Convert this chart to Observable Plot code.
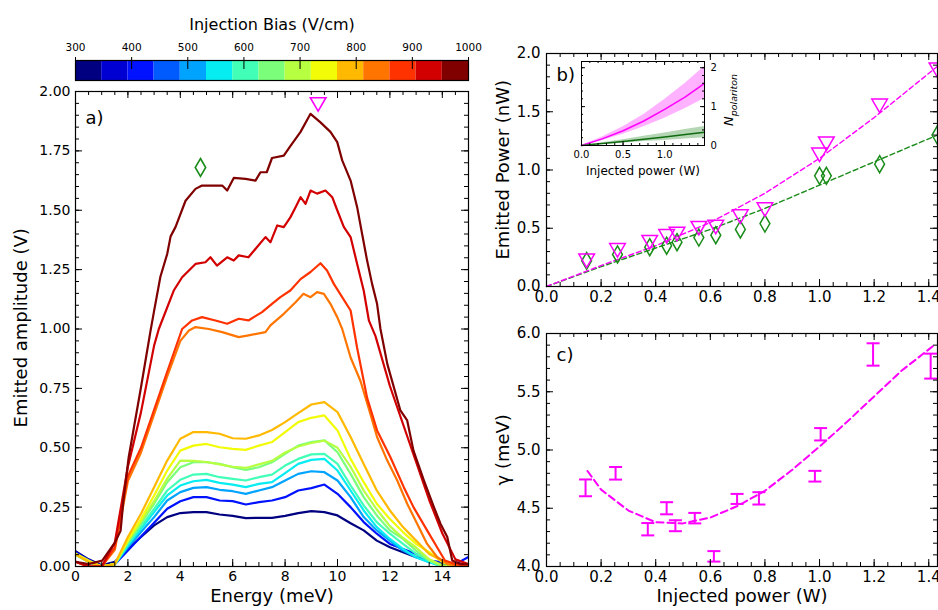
<!DOCTYPE html>
<html><head><meta charset="utf-8">
<script src="https://cdn.jsdelivr.net/npm/d3@7"></script>
<script src="https://cdn.jsdelivr.net/npm/@observablehq/plot@0.6"></script>
<style>
body{margin:0;background:#fff;font-family:"DejaVu Sans",sans-serif;}
#fig{position:relative;width:938px;height:610px;overflow:hidden;background:#fff;}
#fig > *{position:absolute;}
.rlab{font-family:"DejaVu Sans",sans-serif;white-space:nowrap;transform-origin:center center;line-height:1.2;color:#000;}
</style></head><body><div id="fig"></div>
<script>
// ---------------- DATA ----------------
// Panel a: spectra (Energy in meV, amplitude in V), one series per injection bias
const energy = [0,0.5,1,1.5,2,2.5,3,3.5,4,4.5,5,5.5,6,6.5,7,7.5,8,8.5,9,9.5,10,10.5,11,11.5,12,12.5,13,13.5,14,14.5,15];
const specNavy   = [0.065,0.03,0.005,0.02,0.074,0.124,0.173,0.208,0.225,0.229,0.229,0.219,0.213,0.204,0.205,0.205,0.213,0.225,0.233,0.229,0.215,0.182,0.152,0.109,0.081,0.060,0.039,0.025,0.010,0.005,0.003];
const specBlue   = [0.06,0.028,0.0,0.01,0.067,0.126,0.184,0.243,0.275,0.292,0.292,0.278,0.275,0.261,0.271,0.278,0.292,0.320,0.330,0.345,0.306,0.250,0.187,0.138,0.095,0.074,0.053,0.025,0.018,0.01,0.04];
const specAzure  = [0.05,0.02,0.0,0.01,0.081,0.145,0.208,0.278,0.313,0.331,0.334,0.323,0.317,0.306,0.320,0.334,0.362,0.390,0.401,0.397,0.362,0.292,0.208,0.152,0.109,0.067,0.039,0.018,0.005,0.0,0.0];
const specCyan   = [0.05,0.02,0.0,0.01,0.088,0.159,0.229,0.299,0.341,0.359,0.365,0.352,0.345,0.334,0.348,0.355,0.393,0.432,0.449,0.453,0.404,0.320,0.236,0.166,0.116,0.074,0.039,0.018,0.0,0.0,0.0];
const specAqua   = [0.05,0.02,0.0,0.01,0.095,0.168,0.243,0.320,0.365,0.387,0.390,0.376,0.369,0.362,0.376,0.387,0.425,0.453,0.472,0.474,0.432,0.341,0.257,0.187,0.138,0.095,0.053,0.025,0.0,0.0,0.0];
const specGreen  = [0.05,0.02,0.0,0.01,0.102,0.182,0.264,0.355,0.418,0.439,0.439,0.432,0.418,0.407,0.418,0.439,0.474,0.509,0.524,0.531,0.481,0.390,0.292,0.215,0.152,0.116,0.067,0.025,0.0,0.0,0.0];
const specLime   = [0.05,0.02,0.0,0.01,0.108,0.190,0.275,0.370,0.446,0.445,0.440,0.430,0.420,0.415,0.430,0.445,0.480,0.505,0.520,0.530,0.500,0.420,0.320,0.240,0.170,0.120,0.080,0.030,0.005,0.0,0.0];
const specYellow = [0.055,0.025,0.0,0.01,0.112,0.200,0.299,0.404,0.488,0.509,0.516,0.502,0.495,0.491,0.509,0.524,0.566,0.608,0.626,0.636,0.573,0.453,0.355,0.264,0.200,0.145,0.095,0.060,0.018,0.0,0.0];
const specAmber  = [0.05,0.02,0.0,0.01,0.124,0.222,0.334,0.446,0.538,0.566,0.566,0.559,0.540,0.538,0.552,0.575,0.608,0.646,0.682,0.692,0.650,0.545,0.432,0.320,0.236,0.166,0.109,0.053,0.025,0.0,0.0];
// upper curves, read at irregular energies
const orangeE = [0,0.5,1,1.5,2,2.5,3,3.5,4,4.33,4.58,5.09,5.6,6.23,6.6,7.25,7.44,7.95,8.4,8.7,8.97,9.22,9.48,9.73,9.99,10.18,10.5,10.88,11.26,11.51,11.9,12.28,12.66,13.04,13.42,13.8,14.2,15];
const orangeV = [0.02,0,0,0.07,0.36,0.48,0.64,0.80,0.95,0.994,1.008,1.0,0.987,0.966,0.973,0.987,1.015,1.064,1.113,1.148,1.134,1.155,1.148,1.106,1.05,1.0,0.88,0.78,0.64,0.545,0.446,0.362,0.264,0.18,0.095,0.04,0.01,0];
const redOrE = [0,0.5,1,1.5,2,2.5,3,3.5,4.07,4.45,4.83,5.34,5.79,6.23,6.6,7.12,7.5,7.82,8.2,8.59,8.97,9.35,9.6,9.86,10.1,10.5,10.75,11.13,11.51,12.02,12.53,12.9,13.42,13.8,14.1,14.5,15];
const redOrV = [0.02,0,0,0.08,0.38,0.50,0.66,0.82,1.0,1.036,1.05,1.036,1.022,1.043,1.036,1.071,1.106,1.134,1.162,1.21,1.24,1.277,1.246,1.19,1.148,1.078,0.92,0.71,0.573,0.46,0.334,0.25,0.152,0.081,0.025,0.01,0];
const redE = [0,0.5,1,1.5,2,2.5,3,3.18,3.75,4.07,4.58,4.96,5.15,5.4,5.79,6.04,6.23,6.6,6.93,7.25,7.44,7.7,7.95,8.2,8.4,8.59,8.78,8.97,9.22,9.54,9.8,9.99,10.24,10.5,10.75,11.0,11.2,11.45,12.0,12.5,13.0,13.5,14.0,14.5,15];
const redV = [0.02,0,0,0.10,0.42,0.65,0.93,1.0,1.162,1.218,1.274,1.281,1.302,1.267,1.302,1.288,1.31,1.302,1.345,1.387,1.365,1.436,1.429,1.47,1.513,1.555,1.527,1.583,1.57,1.583,1.555,1.5,1.43,1.387,1.274,1.162,1.035,0.97,0.76,0.60,0.44,0.28,0.14,0.03,0.01];
const darkE = [0,0.5,1.02,1.5,1.72,1.84,2.03,2.5,2.86,2.99,3.24,3.5,3.63,3.82,4.2,4.58,4.83,5.2,5.6,5.79,6.04,6.49,6.87,7.06,7.3,7.5,7.95,8.2,8.59,8.97,9.35,9.73,9.99,10.18,10.5,10.75,10.94,11.13,11.32,11.51,11.64,11.9,12.4,12.66,12.9,13.3,13.68,13.93,14.19,14.38,14.7,15];
const darkV = [0.02,0.01,0.025,0.10,0.15,0.29,0.46,0.755,0.99,1.07,1.22,1.316,1.39,1.43,1.54,1.59,1.604,1.604,1.604,1.583,1.636,1.632,1.625,1.66,1.66,1.72,1.73,1.77,1.83,1.906,1.87,1.83,1.787,1.71,1.625,1.513,1.4,1.288,1.19,1.106,1.0,0.853,0.657,0.615,0.488,0.362,0.25,0.18,0.124,0.025,0.01,0.01];

const spectra = [
  {E: energy, V: specNavy, color: "#000080"},
  {E: energy, V: specBlue, color: "#0012ff"},
  {E: energy, V: specAzure, color: "#00a4ff"},
  {E: energy, V: specCyan, color: "#06edf1"},
  {E: energy, V: specAqua, color: "#41ffb6"},
  {E: energy, V: specGreen, color: "#7bff7b"},
  {E: energy, V: specLime, color: "#b6ff41"},
  {E: energy, V: specYellow, color: "#f1fc06"},
  {E: energy, V: specAmber, color: "#ffb900"},
  {E: orangeE, V: orangeV, color: "#ff7500"},
  {E: redOrE, V: redOrV, color: "#ff3200"},
  {E: redE, V: redV, color: "#d20000"},
  {E: darkE, V: darkV, color: "#800000"}
];
const markA_diamond = [{E: 4.77, V: 1.68}];
const markA_triangle = [{E: 9.26, V: 1.955}];

// Colorbar
const biasMin = 300, biasMax = 1000;
const biasColors = ["#000080","#0000d2","#0012ff","#005bff","#00a4ff","#06edf1","#41ffb6","#7bff7b","#b6ff41","#f1fc06","#ffb900","#ff7500","#ff3200","#d20000","#800000"];
const biasTicks = [300,400,500,600,700,800,900,1000];

// Panel b: emitted power vs injected power
const bPower   = [0.147,0.26,0.378,0.44,0.478,0.558,0.62,0.71,0.80,1.0,1.025,1.22,1.43];
const bMagenta = [0.24,0.33,0.40,0.45,0.47,0.52,0.53,0.62,0.68,1.15,1.245,1.57,1.88];
const bGreen   = [0.22,0.275,0.337,0.35,0.38,0.42,0.44,0.49,0.54,0.95,0.95,1.05,1.30];
const bFitX    = [0,0.2,0.4,0.6,0.8,1.0,1.2,1.432];
const bFitMag  = [0,0.18,0.35,0.55,0.80,1.10,1.45,1.89];
const bFitGrn  = [0,0.17,0.33,0.49,0.67,0.87,1.07,1.30];

// Inset: N_polariton vs injected power
const insX      = [0,0.25,0.5,0.75,1.0,1.25,1.48];
const insMag    = [0,0.17,0.38,0.63,0.93,1.25,1.60];
const insMagHi  = [0,0.22,0.48,0.80,1.18,1.60,2.03];
const insMagLo  = [0,0.13,0.29,0.48,0.70,0.95,1.21];
const insGrn    = [0,0.05,0.10,0.16,0.22,0.28,0.34];
const insGrnHi  = [0,0.07,0.15,0.24,0.32,0.41,0.49];
const insGrnLo  = [0,0.03,0.06,0.10,0.13,0.17,0.20];

// Panel c: linewidth gamma vs injected power
const cPower = [0.143,0.253,0.371,0.44,0.472,0.543,0.613,0.698,0.778,0.983,1.004,1.196,1.407];
const cGamma = [4.675,4.80,4.32,4.50,4.35,4.415,4.087,4.58,4.585,4.775,5.135,5.82,5.72];
const cErr   = [0.072,0.054,0.053,0.052,0.047,0.045,0.045,0.043,0.053,0.046,0.053,0.096,0.107];
const cFitX  = [0.15,0.2,0.3,0.4,0.5,0.6,0.7,0.8,0.9,1.0,1.1,1.2,1.3,1.42];
const cFitY  = [4.82,4.66,4.48,4.38,4.37,4.42,4.52,4.65,4.83,5.03,5.24,5.46,5.68,5.90];

// Tick values
const aXTicks = [0,2,4,6,8,10,12,14];
const aYTicks = [0,0.25,0.5,0.75,1.0,1.25,1.5,1.75,2.0];
const bcXTicks = [0,0.2,0.4,0.6,0.8,1.0,1.2,1.4];
const bYTicks = [0,0.5,1.0,1.5,2.0];
const cYTicks = [4.0,4.5,5.0,5.5,6.0];
const insXTicks = [0,0.5,1.0];
const insYTicks = [0,1,2];

// ---------------- HELPERS ----------------
const FONT = "DejaVu Sans";
const MAG = "#ff00ff", GRN = "#1a8c1a";
const LAB = 18;
const thinDiamond = {draw(ctx, size){const r = Math.sqrt(size/Math.PI); const w = r*0.58; ctx.moveTo(0,-r); ctx.lineTo(w,0); ctx.lineTo(0,r); ctx.lineTo(-w,0); ctx.closePath();}};
const capSym = {draw(ctx, size){const r = Math.sqrt(size/Math.PI); ctx.moveTo(-r,0); ctx.lineTo(r,0);}};

function frameTicks(iw, ih, xMaj, xMin, yMaj, yMin, L = 7, l = 4) {
  const tx = (v, len, bottom) => Plot.tickX(v, {x: d => d, stroke: "black", strokeWidth: 1, [bottom ? "insetTop" : "insetBottom"]: ih - len});
  const ty = (v, len, left) => Plot.tickY(v, {y: d => d, stroke: "black", strokeWidth: 1, [left ? "insetRight" : "insetLeft"]: iw - len});
  return [tx(xMin, l, true), tx(xMaj, L, true), tx(xMin, l, false), tx(xMaj, L, false),
          ty(yMin, l, true), ty(yMaj, L, true), ty(yMin, l, false), ty(yMaj, L, false)];
}
const within = (arr, lo, hi) => arr.filter(v => v >= lo - 1e-9 && v <= hi + 1e-9);
const fig = document.getElementById("fig");
const place = (el, left, top) => { el.style.left = left + "px"; el.style.top = top + "px"; fig.appendChild(el); };
const baseStyle = {background: "transparent", fontFamily: FONT, color: "black", overflow: "visible"};
function rotLabel(html, cx, cy, size) {
  const el = document.createElement("div");
  el.className = "rlab";
  el.style.fontSize = size + "px";
  el.innerHTML = html;
  el.style.left = "0px"; el.style.top = "0px";
  fig.appendChild(el);
  const b = el.getBoundingClientRect();
  el.style.left = (cx - b.width / 2) + "px";
  el.style.top = (cy - b.height / 2) + "px";
  el.style.transform = "rotate(-90deg)";
  return el;
}

// ---------------- COLORBAR ----------------
const binW = (biasMax - biasMin) / biasColors.length;
const bins = biasColors.map((c, i) => ({x1: biasMin + i * binW, x2: biasMin + (i + 1) * binW, color: c}));
const cb = Plot.plot({
  width: 480, height: 85, marginLeft: 75, marginRight: 12, marginTop: 60, marginBottom: 5,
  x: {domain: [biasMin, biasMax]},
  style: {...baseStyle, fontSize: "10.5px"},
  marks: [
    Plot.barX(bins, {x1: "x1", x2: "x2", fill: "color"}),
    Plot.frame({stroke: "black", strokeWidth: 1.2}),
    Plot.tickX(biasTicks, {x: d => d, stroke: "black", insetBottom: 11}),
    Plot.axisX({anchor: "top", ticks: biasTicks, tickSize: 4, tickPadding: 6, label: null, tickFormat: d3.format("d"), fontSize: 10.5}),
    Plot.text(["Injection Bias (V/cm)"], {text: d => d, frameAnchor: "top", dy: -42, fontSize: 16})
  ]
});
place(cb, 0, 0);

// ---------------- PANEL A ----------------
const iwA = 393, ihA = 475;
const pa = Plot.plot({
  width: 480, height: 525, marginLeft: 75, marginRight: 12, marginTop: 6, marginBottom: 44,
  x: {domain: [0, 15]}, y: {domain: [0, 2]},
  style: {...baseStyle, fontSize: "14px"},
  marks: [
    ...spectra.map(s => Plot.line(s.E, {x: d => d, y: (d, i) => s.V[i], stroke: s.color, strokeWidth: 2.2, clip: true})),
    Plot.dot(markA_diamond, {x: "E", y: "V", symbol: thinDiamond, r: 9, stroke: GRN, fill: "none", strokeWidth: 1.6}),
    Plot.dot(markA_triangle, {x: "E", y: "V", symbol: "triangle", rotate: 180, r: 5.8, stroke: MAG, fill: "none", strokeWidth: 1.6}),
    Plot.frame({stroke: "black", strokeWidth: 1.2}),
    ...frameTicks(iwA, ihA, aXTicks, within(d3.range(0, 15.01, 0.5), 0, 15), aYTicks, d3.range(0, 2.001, 0.05)),
    Plot.axisX({ticks: aXTicks, tickSize: 0, tickPadding: 5, label: null, tickFormat: d3.format("d"), fontSize: 14}),
    Plot.axisY({ticks: aYTicks, tickSize: 0, tickPadding: 5, label: null, tickFormat: d3.format(".2f"), fontSize: 14}),
    Plot.text(["Energy (meV)"], {text: d => d, frameAnchor: "bottom", dy: 35, fontSize: LAB}),
    Plot.text(["a)"], {text: d => d, frameAnchor: "top-left", dx: 10, dy: 20, fontSize: 18, textAnchor: "start"})
  ]
});
place(pa, 0, 85);
rotLabel("Emitted amplitude (V)", 21, 328, LAB);

// ---------------- PANEL B ----------------
const bXmax = 1.432;
const iwB = 391, ihB = 233;
const pb = Plot.plot({
  width: 458, height: 310, marginLeft: 66, marginRight: 1, marginTop: 53, marginBottom: 24,
  x: {domain: [0, bXmax]}, y: {domain: [0, 2]},
  style: {...baseStyle, fontSize: "15px"},
  marks: [
    Plot.line(bFitX, {x: d => d, y: (d, i) => bFitGrn[i], stroke: GRN, strokeWidth: 1.4, strokeDasharray: "5,3"}),
    Plot.line(bFitX, {x: d => d, y: (d, i) => bFitMag[i], stroke: MAG, strokeWidth: 1.4, strokeDasharray: "5,3"}),
    Plot.dot(bPower, {x: d => d, y: (d, i) => bGreen[i], symbol: thinDiamond, r: 8.5, stroke: GRN, fill: "none", strokeWidth: 1.5}),
    Plot.dot(bPower, {x: d => d, y: (d, i) => bMagenta[i], symbol: "triangle", rotate: 180, r: 5.8, stroke: MAG, fill: "none", strokeWidth: 1.5}),
    Plot.frame({stroke: "black", strokeWidth: 1.2}),
    ...frameTicks(iwB, ihB, bcXTicks, within(d3.range(0, 1.5, 0.05), 0, bXmax), bYTicks, d3.range(0, 2.001, 0.1)),
    Plot.axisX({ticks: bcXTicks, tickSize: 0, tickPadding: 5, label: null, tickFormat: d3.format(".1f"), fontSize: 15}),
    Plot.axisY({ticks: bYTicks, tickSize: 0, tickPadding: 6, label: null, tickFormat: d3.format(".1f"), fontSize: 15}),
    Plot.text(["b)"], {text: d => d, frameAnchor: "top-left", dx: 10, dy: 15, fontSize: 18, textAnchor: "start"})
  ]
});
place(pb, 480, 0);
rotLabel("Emitted Power (nW)", 503, 170, LAB);

// ---------------- INSET ----------------
const insXmax = 1.48, insYmax = 2.16;
const iwI = 123, ihI = 84;
const ins = Plot.plot({
  width: 190, height: 130, marginLeft: 21, marginRight: 46, marginTop: 6, marginBottom: 40,
  x: {domain: [0, insXmax]}, y: {domain: [0, insYmax]},
  style: {...baseStyle, fontSize: "10px"},
  marks: [
    Plot.areaY(insX, {x: d => d, y1: (d, i) => insMagLo[i], y2: (d, i) => insMagHi[i], fill: MAG, fillOpacity: 0.3}),
    Plot.areaY(insX, {x: d => d, y1: (d, i) => insGrnLo[i], y2: (d, i) => insGrnHi[i], fill: "#2a8a2a", fillOpacity: 0.35}),
    Plot.line(insX, {x: d => d, y: (d, i) => insMag[i], stroke: MAG, strokeWidth: 1.5}),
    Plot.line(insX, {x: d => d, y: (d, i) => insGrn[i], stroke: "#106b10", strokeWidth: 1.5}),
    Plot.frame({stroke: "black", strokeWidth: 1}),
    ...frameTicks(iwI, ihI, insXTicks, within(d3.range(0, 1.5, 0.1), 0, insXmax), insYTicks, d3.range(0, 2.15, 0.2), 4, 2),
    Plot.axisX({ticks: insXTicks, tickSize: 0, tickPadding: 5, label: null, tickFormat: d3.format(".1f"), fontSize: 10}),
    Plot.axisY({anchor: "right", ticks: insYTicks, tickSize: 0, tickPadding: 6, label: null, tickFormat: d3.format("d"), fontSize: 10}),
    Plot.text(["Injected power (W)"], {text: d => d, frameAnchor: "bottom", dy: 29, fontSize: 12})
  ]
});
place(ins, 560, 55);
rotLabel("<i>N</i><sub style=\"font-size:9.5px\"><i>polariton</i></sub>", 730, 100, 13);

// ---------------- PANEL C ----------------
const iwC = 391, ihC = 233;
const pc = Plot.plot({
  width: 458, height: 300, marginLeft: 66, marginRight: 1, marginTop: 23, marginBottom: 44,
  x: {domain: [0, bXmax]}, y: {domain: [4, 6]},
  style: {...baseStyle, fontSize: "15px"},
  marks: [
    Plot.line(cFitX, {x: d => d, y: (d, i) => cFitY[i], stroke: MAG, strokeWidth: 2, strokeDasharray: "7,4"}),
    Plot.ruleX(cPower, {x: d => d, y1: (d, i) => cGamma[i] - cErr[i], y2: (d, i) => cGamma[i] + cErr[i], stroke: MAG, strokeWidth: 2}),
    Plot.dot(cPower, {x: d => d, y: (d, i) => cGamma[i] - cErr[i], symbol: capSym, r: 6.5, stroke: MAG, fill: "none", strokeWidth: 2}),
    Plot.dot(cPower, {x: d => d, y: (d, i) => cGamma[i] + cErr[i], symbol: capSym, r: 6.5, stroke: MAG, fill: "none", strokeWidth: 2}),
    Plot.frame({stroke: "black", strokeWidth: 1.2}),
    ...frameTicks(iwC, ihC, bcXTicks, within(d3.range(0, 1.5, 0.05), 0, bXmax), cYTicks, d3.range(4, 6.001, 0.1)),
    Plot.axisX({ticks: bcXTicks, tickSize: 0, tickPadding: 5, label: null, tickFormat: d3.format(".1f"), fontSize: 15}),
    Plot.axisY({ticks: cYTicks, tickSize: 0, tickPadding: 6, label: null, tickFormat: d3.format(".1f"), fontSize: 15}),
    Plot.text(["Injected power (W)"], {text: d => d, frameAnchor: "bottom", dy: 35, fontSize: LAB}),
    Plot.text(["c)"], {text: d => d, frameAnchor: "top-left", dx: 10, dy: 15, fontSize: 18, textAnchor: "start"})
  ]
});
place(pc, 480, 310);
rotLabel("γ (meV)", 503, 450, LAB);
</script></body></html>
